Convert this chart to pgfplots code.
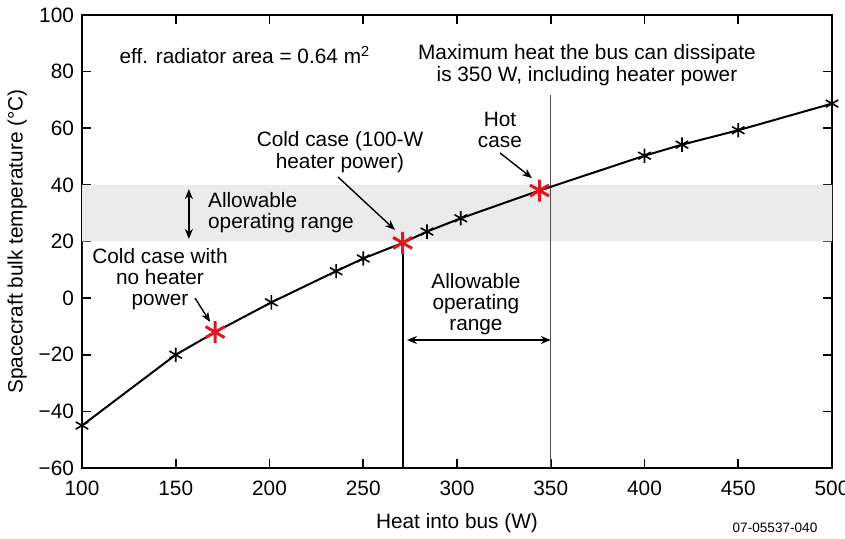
\documentclass[border=0pt]{standalone}
\usepackage{pgfplots}
\pgfplotsset{compat=1.18}
\usepackage{fontspec}
\setmainfont{Liberation Sans}
\usetikzlibrary{arrows.meta}

\definecolor{casered}{RGB}{222,24,32}
\definecolor{bandgray}{RGB}{235,235,235}

\begin{document}
\begin{tikzpicture}[font=\fontsize{10.4}{10.6}\selectfont]
\begin{axis}[name=ax,
    scale only axis, width=375pt, height=226.5pt,
    xmin=100, xmax=500, ymin=-60, ymax=100,
    xtick={100,150,...,500},
    ytick={-60,-40,...,100},
    yticklabels={−60,−40,−20,0,20,40,60,80,100},
    /pgf/number format/assume math mode=true,
    xticklabel style={yshift=-3pt},
    yticklabel style={xshift=-0.5pt},
    tick align=inside, major tick length=4.5pt,
    axis line style={line width=0.9pt},
    tick style={line width=0.8pt, black},
    xlabel={Heat into bus (W)},
    ylabel={Spacecraft bulk temperature (°C)},
    xlabel style={yshift=-2pt},
    ylabel style={yshift=-1pt},
    clip=false]

% allowable temperature band
\addplot[draw=none, fill=bandgray] coordinates {(100,20) (500,20) (500,40) (100,40)} \closedcycle;

% limits
\addplot[line width=0.6pt, gray!60!black] coordinates {(350,-60) (350,71.7)};
\addplot[line width=1.1pt, black] coordinates {(271,-60) (271,19.5)};

% temperature curve
\addplot[line width=1pt, black] coordinates {
(100,-45) (150,-20) (171,-12) (201,-1.5) (235.5,9.5) (250,14) (271,19.5)
(284,23.5) (302,28.2) (344,38) (400,50.3) (420,54.2) (450,59.3) (500,68.7)};
\addplot[only marks, mark=asterisk, mark size=3.6pt, mark options={line width=0.8pt, black}] coordinates {
(100,-45) (150,-20) (201,-1.5) (235.5,9.5) (250,14)
(284,23.5) (302,28.2) (400,50.3) (420,54.2) (450,59.3) (500,68.7)};
\addplot[only marks, mark=asterisk, mark size=5.5pt, mark options={line width=1.5pt, casered}] coordinates {
(171,-12) (271,19.5) (344,38)};

% annotations
\node at (axis cs:186.9,85.9) {eff. radiator area = 0.64 m\textsuperscript{2}};
\node[align=center] at (axis cs:369.3,82.3) {Maximum heat the bus can dissipate\\is 350 W, including heater power};
\node[align=center] at (axis cs:322.9,59.4) {Hot\\case};
\draw[-{Stealth[length=5pt,width=4pt]}, line width=0.7pt] (axis cs:322.9,51.3) -- (axis cs:340,42.4);
\node[align=center] at (axis cs:237.6,51.6) {Cold case (100-W\\heater power)};
\draw[-{Stealth[length=5pt,width=4pt]}, line width=0.7pt] (axis cs:236.5,42.8) -- (axis cs:266.9,24.1);
\node[align=left, anchor=west] at (axis cs:163.5,30.1) {Allowable\\operating range};
\draw[{Stealth[length=5pt,width=4pt]}-{Stealth[length=5pt,width=4pt]}, line width=0.7pt] (axis cs:157,38.5) -- (axis cs:157,20.9);
\node[align=center] at (axis cs:141.6,6.8) {Cold case with\\no heater\\power};
\draw[-{Stealth[length=5pt,width=4pt]}, line width=0.7pt] (axis cs:160.3,0) -- (axis cs:168.3,-8.4);
\node[align=center] at (axis cs:310.1,-2.1) {Allowable\\operating\\range};
\draw[{Stealth[length=5pt,width=4pt]}-{Stealth[length=5pt,width=4pt]}, line width=0.7pt] (axis cs:273.3,-14.8) -- (axis cs:350,-14.8);
\end{axis}
\node[font=\fontsize{6.8}{8}\selectfont] at ([xshift=346.5pt,yshift=-30pt]ax.south west) {07-05537-040};
\pgfresetboundingbox
\path[use as bounding box] ([xshift=-41pt,yshift=-35.5pt]ax.south west) rectangle ([xshift=6.5pt,yshift=7.5pt]ax.north east);
\end{tikzpicture}
\end{document}
